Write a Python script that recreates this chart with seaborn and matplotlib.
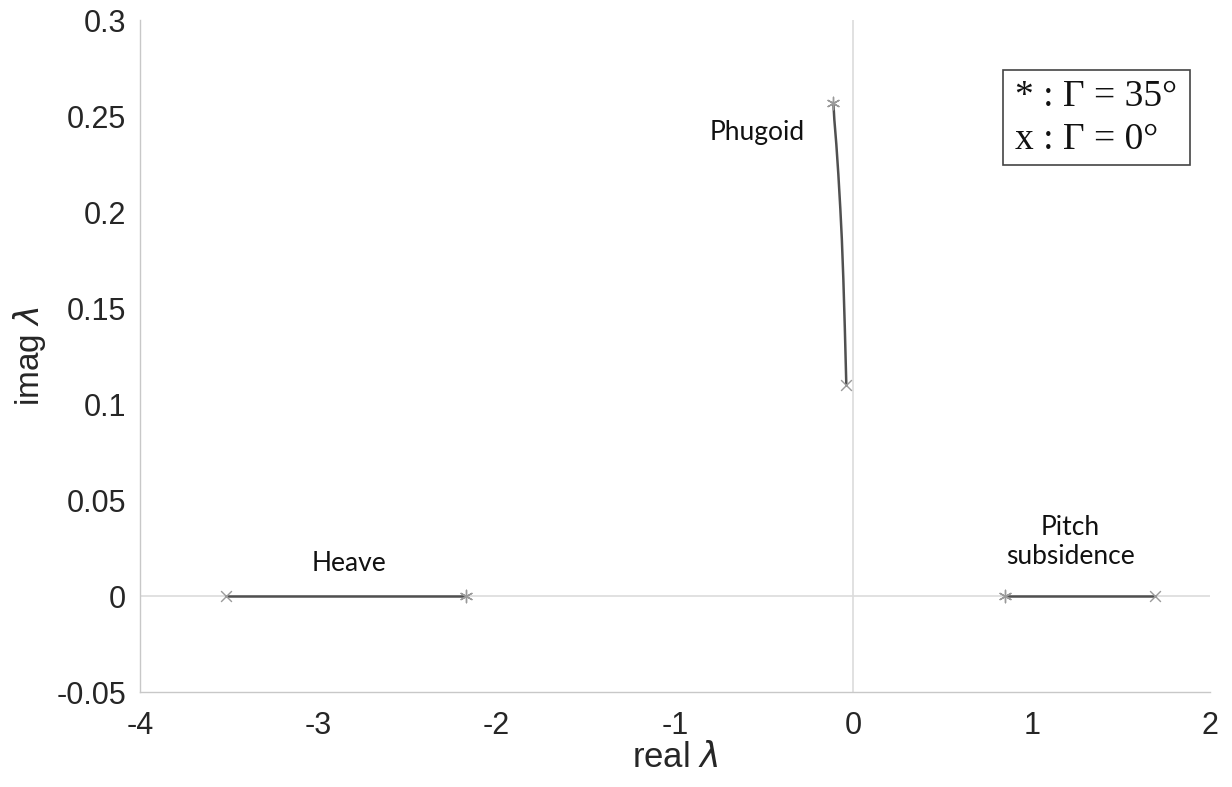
import matplotlib
matplotlib.use("Agg")
import matplotlib.pyplot as plt
import seaborn as sns
import pandas as pd
from matplotlib.patches import Rectangle

# Data (eigenvalue loci)
heave_re = [-3.52, -2.17]
heave_im = [0.0, 0.0]
pitch_re = [0.85, 1.69]
pitch_im = [0.0, 0.0]
phugoid_re = [-0.112, -0.1066, -0.0953, -0.0841, -0.0729, -0.0645, -0.0561, -0.0477, -0.0393]
phugoid_im = [0.2570, 0.2482, 0.2352, 0.2197, 0.2016, 0.1860, 0.1653, 0.1394, 0.1098]

# End points: Gamma = 35 deg (*) and Gamma = 0 deg (x)
star_re = [-2.17, 0.85, -0.112]
star_im = [0.0, 0.0, 0.2570]
cross_re = [-3.52, 1.69, -0.0393]
cross_im = [0.0, 0.0, 0.1098]

xticks = [-4, -3, -2, -1, 0, 1, 2]
yticks = [-0.05, 0, 0.05, 0.1, 0.15, 0.2, 0.25, 0.3]
ytick_labels = ["-0.05", "0", "0.05", "0.1", "0.15", "0.2", "0.25", "0.3"]

sns.set_theme(style="white")
plt.rcParams['font.family'] = ['Liberation Sans', 'DejaVu Sans']

fig = plt.figure(figsize=(12.32, 7.87), dpi=100)
ax = fig.add_axes([140/1232, (787-692)/787, 1070/1232, 672/787])

ax.axhline(0, color="#dcdcdc", lw=1.2, zorder=0)
ax.axvline(0, color="#dcdcdc", lw=1.2, zorder=0)

line_col = "#505050"
for re, im in [(heave_re, heave_im), (pitch_re, pitch_im), (phugoid_re, phugoid_im)]:
    df = pd.DataFrame({"re": re, "im": im})
    sns.lineplot(data=df, x="re", y="im", sort=False, color=line_col, lw=1.8, ax=ax, zorder=2)

mk_col = "#9a9a9a"
sns.scatterplot(x=star_re, y=star_im, marker=(6, 2, 0), s=80, color=mk_col,
                edgecolor=mk_col, linewidth=1.0, ax=ax, zorder=3)
sns.scatterplot(x=cross_re, y=cross_im, marker="x", s=60, color=mk_col,
                linewidth=1.0, ax=ax, zorder=3)

ax.set_xlim(-4, 2)
ax.set_ylim(-0.05, 0.3)
ax.set_xticks(xticks)
ax.set_xticklabels([str(t) for t in xticks])
ax.set_yticks(yticks)
ax.set_yticklabels(ytick_labels)

for s in ["top", "right"]:
    ax.spines[s].set_visible(False)
for s in ["left", "bottom"]:
    ax.spines[s].set_color("#c8c8c8")
    ax.spines[s].set_linewidth(1.0)
ax.tick_params(axis="both", direction="in", length=6, width=1, color="#c8c8c8",
               labelsize=22, labelcolor="#262626")
ax.tick_params(axis="x", pad=14)
ax.tick_params(axis="y", pad=10)

ax.set_xlabel(r"real $\lambda$", fontsize=25, color="#262626", labelpad=0)
ax.set_ylabel(r"imag $\lambda$", fontsize=24, color="#262626", labelpad=6)

ann_font = ['Lato', 'DejaVu Sans']
ax.text(-0.538, 0.2415, "Phugoid", family=ann_font, fontsize=19, ha="center", va="center", color="#111111")
ax.text(-2.827, 0.0171, "Heave", family=ann_font, fontsize=19, ha="center", va="center", color="#111111")
ax.text(1.217, 0.028, "Pitch\nsubsidence", family=ann_font, fontsize=19, ha="center", va="center",
        color="#111111", linespacing=1.2)

# legend-like box
box = Rectangle((0.8065, 0.784), 0.1745, 0.1416, transform=ax.transAxes, fill=False,
                edgecolor="#444444", lw=1.2, zorder=5)
ax.add_patch(box)
ax.text(0.818, 0.886, "* : \u0393 = 35\u00b0", transform=ax.transAxes, family=['Liberation Serif'],
        fontsize=27, ha="left", va="center", color="#111111")
ax.text(0.818, 0.822, "x : \u0393 = 0\u00b0", transform=ax.transAxes, family=['Liberation Serif'],
        fontsize=27, ha="left", va="center", color="#111111")

fig.savefig("out.png", dpi=100)
